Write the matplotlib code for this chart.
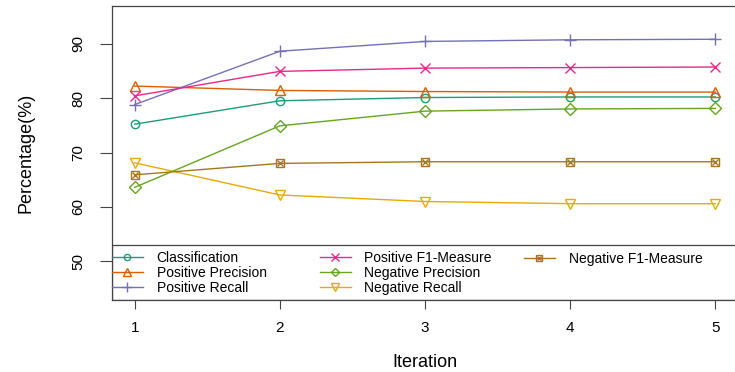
import numpy as np
import matplotlib
matplotlib.use('Agg')
import matplotlib.pyplot as plt
from matplotlib.patches import Rectangle
from matplotlib.legend_handler import HandlerTuple
plt.rcParams['font.family'] = ['Liberation Sans', 'DejaVu Sans']

#%% Data
iteration = [1, 2, 3, 4, 5]
classification = [75.2, 79.5, 80.1, 80.2, 80.2]
pos_precision = [82.2, 81.4, 81.2, 81.1, 81.1]
pos_recall = [78.8, 88.6, 90.4, 90.7, 90.8]
pos_f1 = [80.4, 84.9, 85.5, 85.6, 85.7]
neg_precision = [63.6, 74.9, 77.6, 78.0, 78.1]
neg_recall = [68.1, 62.2, 61.0, 60.6, 60.6]
neg_f1 = [65.9, 68.0, 68.3, 68.3, 68.3]

labels = ['Classification', 'Positive Precision', 'Positive Recall',
          'Positive F1-Measure', 'Negative Precision', 'Negative Recall',
          'Negative F1-Measure']
series = [classification, pos_precision, pos_recall, pos_f1,
          neg_precision, neg_recall, neg_f1]
# Dark2 palette, R pch 1..7
colors = ['#1B9E77', '#D95F02', '#7570B3', '#E7298A', '#66A61E', '#E6AB02', '#A6761D']
markers = ['o', '^', '+', 'x', 'D', 'v', 's']
msizes = [6, 7, 9, 7, 6, 7, 6]

#%% Plot
fig = plt.figure(figsize=(7.35, 3.72), dpi=100)
ax = fig.add_axes([111.5/735, (372-299.5)/372, 627/735, 294/372])

handles = []
for y, c, m, ms in zip(series, colors, markers, msizes):
    h, = ax.plot(iteration, y, color=c, lw=1.0, marker=m, ms=ms,
                 mfc='none', mec=c, mew=1.0)
    handles.append(h)
# pch 7: square with a cross inside
hx, = ax.plot(iteration, neg_f1, ls='none', marker='x', ms=4, mec=colors[6], mew=1.0)
handles[6] = (handles[6], hx)

ax.set_xlim(0.84, 5.16)
ax.set_ylim(43, 97)
ax.set_xticks(iteration)
ax.set_yticks([50, 60, 70, 80, 90])
ax.tick_params(axis='x', length=6.2, width=0.8, color='#444444', labelsize=11, pad=9)
ax.tick_params(axis='y', length=8.6, width=0.8, color='#444444', labelsize=11, pad=10,
               labelrotation=90)
for t in ax.get_yticklabels():
    t.set_va('center')
for s in ax.spines.values():
    s.set_color('#444444')
    s.set_linewidth(0.9)

ax.set_xlabel('Iteration', fontsize=13, labelpad=14)
ax.set_ylabel('Percentage(%)', fontsize=13, labelpad=27)

#%% Legend (three columns, boxed at the bottom)
ax.add_patch(Rectangle((0, 0), 1, 0.1864, transform=ax.transAxes, fill=False,
                       ec='#444444', lw=0.9, zorder=3))
cols = [(0.001, 0.0901, [0, 1, 2]), (0.3325, 0.0901, [3, 4, 5]), (0.658, 0.1378, [6])]
legs = []
for x0, y0, idx in cols:
    leg = ax.legend([handles[i] for i in idx], [labels[i] for i in idx],
                    loc='center left', bbox_to_anchor=(x0, y0), frameon=False,
                    fontsize=10, borderpad=0, borderaxespad=0, handlelength=2.2,
                    handletextpad=1.0, labelspacing=0.05, markerscale=0.75,
                    handler_map={tuple: HandlerTuple(ndivide=1)})
    legs.append(leg)
for leg in legs[:-1]:
    ax.add_artist(leg)

fig.savefig('out.png', dpi=100)
